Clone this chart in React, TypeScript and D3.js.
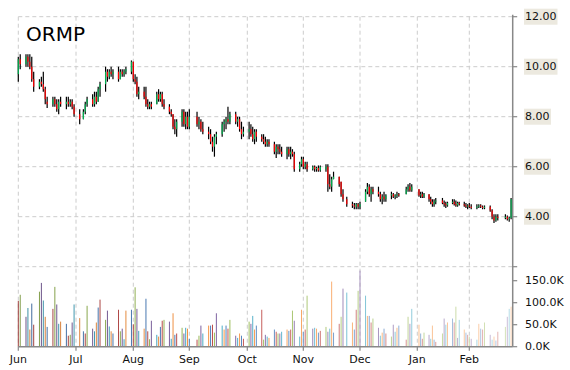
import React from "react";
import * as d3 from "d3";

const title = "ORMP";
const startDate = "2017-06-01";
const endDate = "2018-02-23";
const holidays = ["2017-07-04", "2017-09-04", "2017-11-23", "2017-12-25", "2018-01-01", "2018-01-15", "2018-02-19"];
const monthStarts = ["2017-06-01", "2017-07-01", "2017-08-01", "2017-09-01", "2017-10-01", "2017-11-01", "2017-12-01", "2018-01-01", "2018-02-01"];
const domainEnd = "2018-02-24";
const priceTicks = [2, 4, 6, 8, 10, 12];
const priceLabelTicks = [4, 6, 8, 10, 12];
const volumeTicks = [0, 50000, 100000, 150000];

// [open, high, low, close] per trading day
const ohlc: number[][] = [
  // Jun
  [9.7, 10.4, 9.4, 10.3], [10.3, 10.5, 9.9, 10.1],
  [10.1, 10.5, 10.0, 10.4], [10.4, 10.5, 10.0, 10.2], [10.2, 10.5, 9.9, 10.0], [10.0, 10.4, 9.4, 9.5], [9.5, 9.8, 9.0, 9.2],
  [9.2, 9.5, 9.1, 9.4], [9.4, 9.6, 9.2, 9.3], [9.3, 9.8, 9.0, 9.1], [9.1, 9.2, 8.5, 8.7], [8.6, 8.8, 8.35, 8.5],
  [8.5, 8.8, 8.4, 8.7], [8.7, 8.8, 8.4, 8.5], [8.5, 8.7, 8.2, 8.3], [8.3, 8.7, 8.1, 8.6], [8.6, 8.8, 8.4, 8.5],
  [8.5, 8.8, 8.3, 8.6], [8.6, 8.8, 8.4, 8.5], [8.5, 8.7, 8.4, 8.6], [8.6, 8.7, 8.3, 8.4], [8.4, 8.5, 8.0, 8.1],
  // Jul
  [8.1, 8.3, 7.7, 7.9], [7.9, 8.3, 7.9, 8.2], [8.2, 8.6, 8.1, 8.5], [8.5, 8.8, 8.4, 8.7],
  [8.7, 8.9, 8.4, 8.5], [8.5, 9.0, 8.4, 8.8], [8.8, 9.0, 8.5, 8.6], [8.6, 9.2, 8.6, 9.1], [9.1, 9.4, 8.8, 9.3],
  [9.3, 10.0, 9.0, 9.8], [9.8, 9.9, 9.4, 9.6], [9.6, 9.9, 9.5, 9.8], [9.8, 10.0, 9.6, 9.7], [9.7, 9.9, 9.5, 9.8],
  [9.8, 10.0, 9.4, 9.5], [9.5, 9.9, 9.5, 9.8], [9.8, 9.9, 9.6, 9.7], [9.7, 9.9, 9.6, 9.8], [9.8, 10.0, 9.7, 9.9],
  [9.8, 10.25, 9.7, 10.2],
  // Aug
  [10.2, 10.2, 9.4, 9.5], [9.5, 9.7, 9.3, 9.4], [9.4, 9.6, 8.8, 8.9], [8.9, 9.2, 8.7, 9.0],
  [9.0, 9.2, 8.7, 8.8], [8.8, 9.2, 8.4, 8.5], [8.5, 8.7, 8.3, 8.4], [8.4, 8.6, 8.3, 8.5], [8.5, 8.6, 8.3, 8.4],
  [8.5, 9.0, 8.5, 8.9], [8.9, 9.1, 8.6, 8.7], [8.7, 9.0, 8.6, 8.9], [8.9, 9.0, 8.4, 8.5], [8.5, 8.7, 8.3, 8.4],
  [8.4, 8.5, 8.1, 8.2], [8.2, 8.3, 8.0, 8.1], [8.1, 8.1, 7.5, 7.6], [7.6, 7.9, 7.3, 7.5], [7.5, 7.9, 7.2, 7.8],
  [7.8, 8.3, 7.6, 8.2], [8.2, 8.3, 7.6, 7.7], [7.7, 8.2, 7.5, 8.0], [8.0, 8.2, 7.5, 7.6],
  // Sep
  [7.6, 8.3, 7.5, 8.0],
  [8.0, 8.2, 7.6, 7.7], [7.7, 8.0, 7.5, 7.8], [7.8, 7.9, 7.4, 7.5], [7.5, 7.8, 7.3, 7.4],
  [7.4, 7.6, 7.1, 7.3], [7.3, 7.5, 6.9, 7.0], [7.0, 7.2, 6.6, 6.8], [6.8, 7.3, 6.4, 7.2], [7.2, 7.4, 6.9, 7.3],
  [7.3, 7.8, 7.2, 7.7], [7.7, 7.9, 7.4, 7.8], [7.8, 8.0, 7.5, 7.9], [7.9, 8.4, 7.7, 7.8], [7.8, 8.2, 7.7, 8.1],
  [8.1, 8.2, 7.7, 7.8], [7.8, 8.0, 7.6, 7.9], [7.9, 8.0, 7.4, 7.5], [7.5, 7.8, 7.1, 7.3], [7.3, 7.6, 7.2, 7.4],
  // Oct
  [7.4, 7.8, 7.1, 7.5], [7.5, 7.7, 7.2, 7.3], [7.3, 7.6, 7.0, 7.1], [7.1, 7.5, 6.9, 7.4], [7.4, 7.5, 7.0, 7.2],
  [7.2, 7.3, 7.0, 7.1], [7.1, 7.3, 6.9, 7.0], [7.0, 7.2, 6.8, 6.9], [6.9, 7.1, 6.8, 7.0], [7.0, 7.1, 6.8, 6.9],
  [6.9, 7.0, 6.5, 6.6], [6.6, 6.9, 6.35, 6.8], [6.8, 6.9, 6.5, 6.7], [6.7, 6.9, 6.5, 6.6], [6.6, 6.8, 6.4, 6.5],
  [6.5, 6.8, 6.3, 6.7], [6.7, 6.8, 6.4, 6.5], [6.5, 6.8, 6.3, 6.6], [6.6, 6.7, 6.4, 6.5], [6.5, 6.6, 5.8, 5.9],
  [5.9, 6.2, 5.8, 6.1], [6.1, 6.4, 6.0, 6.3],
  // Nov
  [6.3, 6.4, 5.9, 6.0], [6.0, 6.2, 5.9, 6.1], [6.1, 6.2, 5.8, 5.9],
  [5.9, 6.05, 5.85, 6.0], [6.0, 6.05, 5.8, 5.9], [5.9, 6.0, 5.8, 5.95], [5.95, 6.05, 5.8, 5.85], [5.85, 6.05, 5.8, 6.0],
  [5.9, 6.1, 5.8, 6.0], [6.0, 6.1, 5.0, 5.3], [5.3, 5.7, 5.1, 5.2], [5.2, 5.6, 5.0, 5.5], [5.5, 5.8, 5.5, 5.6],
  [5.6, 5.6, 5.2, 5.3], [5.4, 5.4, 4.8, 4.9], [4.9, 5.1, 4.6, 4.7], [4.7, 4.8, 4.4, 4.5],
  [4.5, 4.6, 4.35, 4.45], [4.45, 4.55, 4.3, 4.4], [4.4, 4.55, 4.3, 4.5], [4.5, 4.55, 4.3, 4.4],
  // Dec
  [4.4, 4.6, 4.3, 4.5],
  [4.6, 5.1, 4.6, 5.0], [5.0, 5.35, 4.9, 5.2], [5.2, 5.3, 4.8, 4.9], [4.9, 5.2, 4.6, 5.1], [5.1, 5.2, 4.9, 5.0],
  [5.0, 5.2, 4.8, 4.9], [4.9, 5.0, 4.6, 4.7], [4.7, 4.9, 4.5, 4.8], [4.8, 5.0, 4.6, 4.7], [4.7, 4.9, 4.6, 4.85],
  [4.85, 5.0, 4.7, 4.9], [4.9, 4.95, 4.75, 4.8], [4.8, 4.9, 4.7, 4.85], [4.85, 5.0, 4.75, 4.9], [4.9, 4.95, 4.8, 4.85],
  [4.9, 5.2, 4.9, 5.1], [5.1, 5.3, 5.0, 5.2], [5.2, 5.35, 5.0, 5.05], [5.05, 5.3, 5.0, 5.2],
  // Jan
  [5.1, 5.1, 4.8, 4.85], [4.85, 5.0, 4.75, 4.9], [4.9, 5.0, 4.75, 4.8], [4.8, 4.95, 4.75, 4.9],
  [4.9, 4.9, 4.6, 4.7], [4.7, 4.8, 4.5, 4.6], [4.6, 4.7, 4.4, 4.5], [4.5, 4.7, 4.4, 4.6], [4.6, 4.75, 4.5, 4.65],
  [4.65, 4.75, 4.5, 4.55], [4.55, 4.65, 4.4, 4.5], [4.5, 4.6, 4.35, 4.45], [4.45, 4.6, 4.4, 4.55],
  [4.55, 4.7, 4.5, 4.6], [4.6, 4.7, 4.45, 4.5], [4.5, 4.65, 4.4, 4.45], [4.45, 4.6, 4.4, 4.55], [4.55, 4.6, 4.45, 4.5],
  [4.5, 4.6, 4.4, 4.45], [4.45, 4.55, 4.35, 4.4], [4.4, 4.5, 4.3, 4.45],
  // Feb
  [4.45, 4.55, 4.35, 4.4], [4.4, 4.5, 4.3, 4.35],
  [4.35, 4.5, 4.3, 4.4], [4.4, 4.5, 4.35, 4.45], [4.45, 4.5, 4.35, 4.4], [4.4, 4.45, 4.3, 4.35], [4.35, 4.45, 4.3, 4.4],
  [4.4, 4.45, 4.2, 4.25], [4.25, 4.3, 3.9, 4.0], [4.0, 4.1, 3.75, 3.85], [3.85, 4.1, 3.8, 4.0], [4.0, 4.1, 3.85, 3.95],
  [3.95, 4.1, 3.9, 4.0], [4.0, 4.05, 3.85, 3.9], [3.9, 4.0, 3.8, 3.95], [3.95, 4.75, 3.9, 4.7],
];

// volume in thousands per trading day
const volumesK: number[] = [
  104, 118, 68, 88, 39, 98, 50, 125, 145, 105, 68, 45, 86, 136, 96, 52, 57, 52, 25, 27, 55, 96,
  65, 35, 30, 93, 41, 35, 55, 89, 107, 61, 82, 46, 35, 30, 84, 35, 41, 17, 82, 84,
  51, 135, 86, 36, 41, 109, 35, 17, 59, 27, 23, 45, 59, 61, 57, 18, 76, 27, 30, 43, 30, 43, 41,
  18, 16, 25, 48, 30, 48, 48, 50, 32, 76, 48, 39, 48, 41, 61, 25, 20, 30, 25, 18,
  57, 52, 70, 39, 48, 84, 16, 27, 23, 20, 39, 34, 30, 30, 34, 39, 36, 39, 82, 59, 23, 84,
  34, 39, 116, 41, 43, 41, 32, 36, 45, 34, 41, 148, 32, 52, 68, 132, 123, 55, 39, 84, 127,
  173, 116, 70, 70, 55, 64, 43, 25, 32, 41, 30, 23, 50, 34, 43, 48, 16, 68, 52, 86,
  50, 30, 18, 32, 27, 18, 48, 16, 11, 30, 64, 50, 55, 64, 55, 91, 20, 61, 39, 32, 27,
  23, 18, 16, 52, 41, 39, 55, 27, 16, 23, 14, 34, 45, 68, 86, 91,
];

const volPalette = ["#4F81BD", "#C0504D", "#9BBB59", "#8064A2", "#4BACC6", "#F79646"];

// layout
const W = 570;
const H = 370;
const monthX = [18.3, 76, 133.3, 189.3, 247.3, 303.3, 360, 417.3, 469.3, 513];
const plotLeft = 18.3;
const axisX = 512.7;
const priceTop = 16.7;
const priceBottom = 266.7;
const volBottom = 346.7;
const vol150 = 280.7;
const FONT = "DejaVu Sans, Verdana, sans-serif";

export default function App() {
  const parse = d3.utcParse("%Y-%m-%d");
  const fmt = d3.utcFormat("%Y-%m-%d");
  const hol = new Set(holidays);
  const dates: Date[] = [];
  const end = parse(endDate)!;
  for (let d = parse(startDate)!; d <= end; d = d3.utcDay.offset(d, 1)) {
    const wd = d.getUTCDay();
    if (wd === 0 || wd === 6) continue;
    if (hol.has(fmt(d))) continue;
    dates.push(d);
  }
  const n = Math.min(dates.length, ohlc.length);
  const months = monthStarts.map((s) => parse(s)!);

  const x = d3.scaleUtc().domain([...months, parse(domainEnd)!]).range(monthX);
  const y = d3.scaleLinear().domain([2, 12]).range([priceBottom, priceTop]);
  const yv = d3.scaleLinear().domain([0, 150000]).range([volBottom, vol150]);

  const volColor = (i: number) => {
    const base = d3.rgb(volPalette[(i + 1) % volPalette.length]);
    const t = i / (n - 1);
    if (t < 0.4) return d3.interpolateRgb(base.darker(0.5), base)(t / 0.4);
    return d3.interpolateRgb(base, "#ffffff")(((t - 0.4) / 0.6) * 0.6);
  };

  const monthFmt = d3.utcFormat("%b");
  const grid = "#cccccc";

  return (
    <svg width={W} height={H} style={{ position: "absolute", left: 0, top: 0, background: "#fff" }} fontFamily={FONT}>
      {/* horizontal gridlines */}
      {priceTicks.map((t) => (
        <line key={"h" + t} x1={plotLeft} x2={axisX} y1={y(t)} y2={y(t)} stroke={grid} strokeDasharray="4,3" />
      ))}
      {/* vertical gridlines */}
      {months.map((m, i) => (
        <line key={"v" + i} x1={x(m)} x2={x(m)} y1={priceTop} y2={volBottom} stroke={grid} strokeDasharray="4,3" />
      ))}

      {/* volume bars */}
      {volumesK.slice(0, n).map((v, i) => (
        <rect key={"vb" + i} x={x(dates[i]) - 0.5} width={1} y={yv(v * 1000)} height={yv(0) - yv(v * 1000)} fill={volColor(i)} />
      ))}

      {/* candles */}
      {ohlc.slice(0, n).map(([o, h, l, c], i) => {
        const cx = x(dates[i]);
        const top = y(Math.max(o, c));
        const bot = y(Math.min(o, c));
        const col = c > o ? "#00B050" : c < o ? "#FF0000" : "#000";
        return (
          <g key={"c" + i}>
            <line x1={cx} x2={cx} y1={y(h)} y2={y(l)} stroke="#000" strokeWidth={1.2} />
            <rect x={cx - 0.6} width={1.2} y={top} height={Math.max(1, bot - top)} fill={col} />
          </g>
        );
      })}

      {/* axes */}
      <line x1={plotLeft} x2={axisX} y1={volBottom} y2={volBottom} stroke="#888" strokeWidth={1.5} />
      <line x1={axisX} x2={axisX} y1={priceTop - 2} y2={volBottom} stroke="#888" strokeWidth={1.5} />
      {months.map((m, i) => (
        <g key={"mt" + i}>
          <line x1={x(m)} x2={x(m)} y1={volBottom} y2={volBottom + 4} stroke="#888" strokeWidth={1.2} />
          <text x={x(m)} y={363} textAnchor="middle" fontSize={11} fill="#111">{monthFmt(m)}</text>
        </g>
      ))}
      {priceTicks.map((t) => (
        <line key={"pt" + t} x1={axisX} x2={axisX + 4.5} y1={y(t)} y2={y(t)} stroke="#888" strokeWidth={1.2} />
      ))}
      {priceLabelTicks.map((t) => {
        const label = t.toFixed(2);
        return (
          <g key={"pl" + t}>
            <rect x={524} y={y(t) - 8} width={label.length * 6.5 + 1} height={16} fill="#ECE9DF" />
            <text x={525} y={y(t)} dominantBaseline="central" fontSize={11} fill="#111">{label}</text>
          </g>
        );
      })}
      {volumeTicks.map((t) => (
        <g key={"vl" + t}>
          <line x1={axisX} x2={axisX + 4.5} y1={yv(t)} y2={yv(t)} stroke="#888" strokeWidth={1.2} />
          <text x={525} y={yv(t)} dominantBaseline="central" fontSize={11} fill="#111">{(t / 1000).toFixed(1) + "K"}</text>
        </g>
      ))}

      <text x={26} y={41} fontSize={20} fill="#000">{title}</text>
    </svg>
  );
}
